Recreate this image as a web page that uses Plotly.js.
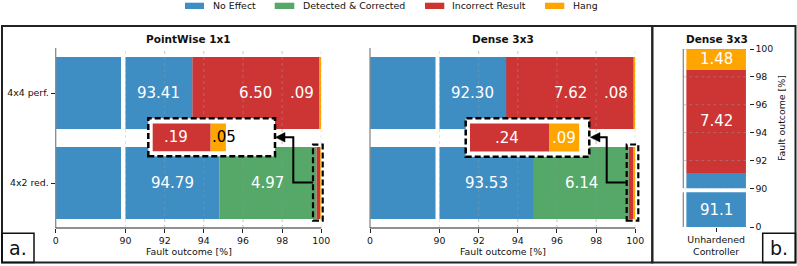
<!DOCTYPE html>
<html><head><meta charset="utf-8">
<script src="https://cdn.plot.ly/plotly-3.0.1.min.js"></script>
<style>html,body{margin:0;padding:0;background:#fff}</style>
</head><body><div id="chart" style="width:797px;height:266px"></div>
<script>
// ---------------- data ----------------
const categories = ['4x2 red.', '4x4 perf.'];
const pwNoEffect = [94.79, 93.41];
const pwDetected = [4.97, 0];
const pwIncorrect = [0.19, 6.50];
const pwHang = [0.05, 0.09];
const dnNoEffect = [93.53, 92.30];          // printed values
const dnNoEffectDrawn = [94.79, 93.41];     // blue bar length as drawn in the picture
const dnDetected = [6.14, 0];
const dnIncorrect = [0.24, 7.62];
const dnHang = [0.09, 0.08];
const unhCategory = ['Unhardened<br>Controller'];
const unhNoEffect = [91.1];
const unhIncorrect = [7.42];
const unhHang = [1.48];
const brokenTicks = [90, 92, 94, 96, 98, 100];
const seriesNames = ['No Effect', 'Detected & Corrected', 'Incorrect Result', 'Hang'];

// ---------------- styling helpers ----------------
const W = 797, H = 266;
const X = p => p / W, Y = p => 1 - p / H;
const FONT = 'DejaVu Sans, sans-serif';
const C = {ne: '#3e8ec4', det: '#55a868', inc: '#cd3434', hang: '#ffa500'};
const seriesColors = [C.ne, C.det, C.inc, C.hang];
const fmt = (v, d = 2) => v < 1 ? v.toFixed(d).replace(/^0/, '') : v.toFixed(d);

const traces = [], annotations = [], shapes = [];
const zeros = n => new Array(n).fill(0);

function bar(x, base, y, color, xa, ya, width) {
  return {type: 'bar', orientation: 'h', x: x, base: base, y: y, width: width,
    marker: {color: color, line: {width: 0}}, xaxis: xa, yaxis: ya,
    hoverinfo: 'skip', showlegend: false};
}
function label(text, x, y, xa, ya, opts = {}) {
  annotations.push(Object.assign({text: text, x: x, y: y, xref: xa, yref: ya, showarrow: false,
    xanchor: 'center', yanchor: 'middle', font: {family: FONT, size: 15, color: '#fff'}}, opts));
}

const panels = [
  {ne: pwNoEffect, neDrawn: pwNoEffect, det: pwDetected, inc: pwIncorrect, hang: pwHang,
   xa1: 'x', xa2: 'x2', ya: 'y', xin: 'x5', yin: 'y3'},
  {ne: dnNoEffect, neDrawn: dnNoEffectDrawn, det: dnDetected, inc: dnIncorrect, hang: dnHang,
   xa1: 'x3', xa2: 'x4', ya: 'y2', xin: 'x6', yin: 'y4'}
];
const insetCat = 0;
const yIdx = categories.map((c, i) => i);

panels.forEach(p => {
  const baseDet = p.ne.slice();
  const baseInc = baseDet.map((b, i) => b + p.det[i]);
  const baseHang = baseInc.map((b, i) => b + p.inc[i]);
  p.bases = {det: baseDet, inc: baseInc, hang: baseHang};
  [p.xa1, p.xa2].forEach(xa => {
    traces.push(bar(p.det, baseDet, yIdx, C.det, xa, p.ya, 0.8));
    traces.push(bar(p.inc, baseInc, yIdx, C.inc, xa, p.ya, 0.8));
    traces.push(bar(p.hang, baseHang, yIdx, C.hang, xa, p.ya, 0.8));
    traces.push(bar(p.neDrawn, zeros(yIdx.length), yIdx, C.ne, xa, p.ya, 0.8));
  });
  // gridlines drawn over the bars
  traces.push({type: 'scatter', mode: 'lines', xaxis: p.xa2, yaxis: p.ya, hoverinfo: 'skip', showlegend: false,
    x: brokenTicks.flatMap(t => [t, t, null]), y: brokenTicks.flatMap(() => [-0.5, 1.5, null]),
    line: {color: 'rgba(150,150,150,0.55)', width: 1, dash: 'dot'}});
  // labels in main bars
  yIdx.forEach(i => {
    label(fmt(p.ne[i]), (90 + p.neDrawn[i]) / 2, i, p.xa2, p.ya);
    [['det', p.det], ['inc', p.inc], ['hang', p.hang]].forEach(([k, arr]) => {
      const v = arr[i];
      if (v <= 0) return;
      const s = Math.max(p.bases[k][i], p.neDrawn[i]), e = p.bases[k][i] + v;
      if (v > 0.5) label(fmt(v), (s + e) / 2, i, p.xa2, p.ya);
      else if (i !== insetCat) label(fmt(v), 99.72, i, p.xa2, p.ya, {xanchor: 'right'});
    });
  });
});

// insets (zoom of the thin segments of the bottom bar)
panels.forEach((p, k) => {
  const inc = p.inc[insetCat], hang = p.hang[insetCat];
  traces.push(bar([inc], [0], [0], C.inc, p.xin, p.yin, 0.73));
  traces.push(bar([hang], [inc], [0], C.hang, p.xin, p.yin, 0.73));
  label(fmt(inc), inc / 2, 0, p.xin, p.yin, {xshift: k === 0 ? -6 : -3});
  if (hang / inc > 0.3) label(fmt(hang), inc + hang / 2, 0, p.xin, p.yin);
  else label(fmt(hang), inc, 0, p.xin, p.yin, {xanchor: 'left', xshift: -1, font: {family: FONT, size: 15, color: '#000'}});
});

// panel b: unhardened controller
['y5', 'y6'].forEach(ya => {
  traces.push(bar(unhNoEffect, [0], [0], C.ne, 'x7', ya, 0.907));
  traces.push(bar(unhIncorrect, [unhNoEffect[0]], [0], C.inc, 'x7', ya, 0.907));
  traces.push(bar(unhHang, [unhNoEffect[0] + unhIncorrect[0]], [0], C.hang, 'x7', ya, 0.907));
});
traces.forEach(t => { if (t.orientation === 'h' && t.xaxis === 'x7') { t.orientation = 'v'; const tmp = t.x; t.x = t.y; t.y = tmp; } });
traces.push({type: 'scatter', mode: 'lines', xaxis: 'x7', yaxis: 'y5', hoverinfo: 'skip', showlegend: false,
  x: brokenTicks.flatMap(() => [-0.5, 0.5, null]), y: brokenTicks.flatMap(t => [t, t, null]),
  line: {color: 'rgba(150,150,150,0.55)', width: 1, dash: 'dot'}});
{
  const b1 = unhNoEffect[0], b2 = b1 + unhIncorrect[0];
  label(fmt(unhHang[0]), 0, (b2 + 100) / 2, 'x7', 'y5');
  label(fmt(unhIncorrect[0]), 0, (b1 + b2) / 2, 'x7', 'y5');
  label(fmt(unhNoEffect[0], 1), 0, 45, 'x7', 'y6');
}

// ---------------- shapes ----------------
const line = (x0, y0, x1, y1, color, w, dash) => shapes.push({type: 'line', xref: 'paper', yref: 'paper',
  x0: X(x0), y0: Y(y0), x1: X(x1), y1: Y(y1), line: {color: color, width: w, dash: dash || 'solid'}, layer: 'above'});
const rect = (x0, y0, x1, y1, lc, w, fill, dash) => shapes.push({type: 'rect', xref: 'paper', yref: 'paper',
  x0: X(x0), y0: Y(y1), x1: X(x1), y1: Y(y0), line: {color: lc, width: w, dash: dash || 'solid'},
  fillcolor: fill || 'rgba(0,0,0,0)', layer: 'above'});
const path = (pts, color, w, fill) => shapes.push({type: 'path', xref: 'paper', yref: 'paper',
  path: 'M' + pts.map(q => X(q[0]) + ',' + Y(q[1])).join('L') + (fill ? 'Z' : ''),
  line: {color: color, width: w}, fillcolor: fill || 'rgba(0,0,0,0)', layer: 'above'});

// spines
line(55.7, 48, 55.7, 228, '#8a8a8a', 1.3);
line(55.7, 228, 321.3, 228, '#222', 1);
line(370, 48, 370, 228, '#8a8a8a', 1.3);
line(370, 228, 635.3, 228, '#222', 1);
line(683.3, 49, 683.3, 188.3, '#8a8a8a', 1.3);
line(683.3, 192.3, 683.3, 227, '#8a8a8a', 1.3);

// inset borders, highlight boxes and arrows
const DASH = '6px,3px';
rect(148.3, 118.3, 275, 156.3, '#000', 2.5, null, DASH);
rect(465.7, 118.3, 589.3, 156.8, '#000', 2.5, null, DASH);
rect(313, 144.7, 322.7, 220.7, '#000', 2.2, null, DASH);
rect(626.7, 144.5, 638.3, 220.7, '#000', 2.2, null, DASH);
path([[313, 182.5], [293.3, 182.5], [293.3, 137.3], [284, 137.3]], '#000', 2);
path([[275.5, 137.3], [285, 132.6], [285, 142]], '#000', 0.5, '#000');
path([[626.7, 182.5], [606.7, 182.5], [606.7, 137.3], [599, 137.3]], '#000', 2);
path([[590.3, 137.3], [600, 132.6], [600, 142]], '#000', 0.5, '#000');

// frames
rect(2, 26, 652.3, 262.5, '#222', 2);
rect(652.3, 26, 795.5, 262.5, '#222', 2);
rect(2, 233.3, 34, 262.5, '#111', 1.5);
rect(762.7, 233.3, 795.5, 262.5, '#111', 1.5);

// legend
const legX = [[185, 204, 212], [274.7, 294.3, 301.5], [425, 444.3, 451], [545, 564.3, 572]];
seriesNames.forEach((n, i) => {
  const [a, b, t] = legX[i];
  shapes.push({type: 'rect', xref: 'paper', yref: 'paper', x0: X(a), x1: X(b), y0: Y(9), y1: Y(2.7),
    line: {width: 0}, fillcolor: seriesColors[i], layer: 'above'});
  annotations.push({text: n, x: X(t - 1), y: Y(5.8), xref: 'paper', yref: 'paper', showarrow: false,
    xanchor: 'left', yanchor: 'middle', font: {family: FONT, size: 9.4, color: '#111'}});
});

// titles and text
const txt = (t, x, y, size, opts = {}) => annotations.push(Object.assign({text: t, x: X(x), y: Y(y), xref: 'paper', yref: 'paper',
  showarrow: false, xanchor: 'center', yanchor: 'middle', font: {family: FONT, size: size, color: '#111'}}, opts));
txt('<b>PointWise 1x1</b>', 188.5, 39.3, 10.5);
txt('<b>Dense 3x3</b>', 502.6, 39.3, 10.5);
txt('<b>Dense 3x3</b>', 716.5, 39.3, 10.5);
txt('Fault outcome [%]', 188.5, 251.8, 9.4);
txt('Fault outcome [%]', 502.6, 251.8, 9.4);
txt('Fault outcome [%]', 781.5, 118.5, 9.4, {textangle: -90});
txt('a.', 17.5, 247.5, 19);
txt('b.', 779, 247.5, 19);

// ---------------- axes ----------------
const tc = {ticks: 'outside', ticklen: 3.5, tickwidth: 1, tickcolor: '#222',
  tickfont: {family: FONT, size: 9.4, color: '#111'}, showgrid: false, zeroline: false, showline: false,
  fixedrange: true, tickmode: 'array'};
const hidden = {visible: false, fixedrange: true, showgrid: false, zeroline: false};
const layout = {
  width: W, height: H, margin: {l: 0, r: 0, t: 0, b: 0}, paper_bgcolor: '#fff', plot_bgcolor: '#fff',
  barmode: 'overlay', showlegend: false, font: {family: FONT},
  xaxis: Object.assign({}, tc, {domain: [X(55.7), X(121)], range: [0, 90], anchor: 'y', tickvals: [0], ticktext: ['0']}),
  xaxis2: Object.assign({}, tc, {domain: [X(125.5), X(321.3)], range: [90, 100], anchor: 'y', tickvals: brokenTicks}),
  yaxis: Object.assign({}, tc, {domain: [Y(228), Y(48)], range: [-0.5, 1.5], anchor: 'x', tickvals: yIdx, ticktext: categories, ticklen: 4}),
  xaxis3: Object.assign({}, tc, {domain: [X(370), X(435.5)], range: [0, 90], anchor: 'y2', tickvals: [0], ticktext: ['0']}),
  xaxis4: Object.assign({}, tc, {domain: [X(439.5), X(635.3)], range: [90, 100], anchor: 'y2', tickvals: brokenTicks}),
  yaxis2: Object.assign({}, tc, {domain: [Y(228), Y(48)], range: [-0.5, 1.5], anchor: 'x3', ticks: '', showticklabels: false}),
  xaxis5: Object.assign({}, hidden, {domain: [X(148.3), X(275)], range: [-(152.7 - 148.3) / 305, (275 - 152.7) / 305], anchor: 'y3'}),
  yaxis3: Object.assign({}, hidden, {domain: [Y(156.3), Y(118.3)], range: [-0.5, 0.5], anchor: 'x5'}),
  xaxis6: Object.assign({}, hidden, {domain: [X(465.7), X(589.3)], range: [-(470 - 465.7) / 331, (589.3 - 470) / 331], anchor: 'y4'}),
  yaxis4: Object.assign({}, hidden, {domain: [Y(156.8), Y(118.3)], range: [-0.5, 0.5], anchor: 'x6'}),
  xaxis7: Object.assign({}, tc, {domain: [X(683.3), X(749)], range: [-0.5, 0.5], anchor: 'y6', tickvals: [0], ticktext: unhCategory}),
  yaxis5: Object.assign({}, tc, {domain: [Y(188.3), Y(49)], range: [90, 100], anchor: 'x7', side: 'right', tickvals: brokenTicks}),
  yaxis6: Object.assign({}, tc, {domain: [Y(227), Y(192.3)], range: [0, 90], anchor: 'x7', side: 'right', tickvals: [0]}),
  shapes: shapes, annotations: annotations
};
Plotly.newPlot('chart', traces, layout, {staticPlot: true, displayModeBar: false});
</script>
</body></html>
